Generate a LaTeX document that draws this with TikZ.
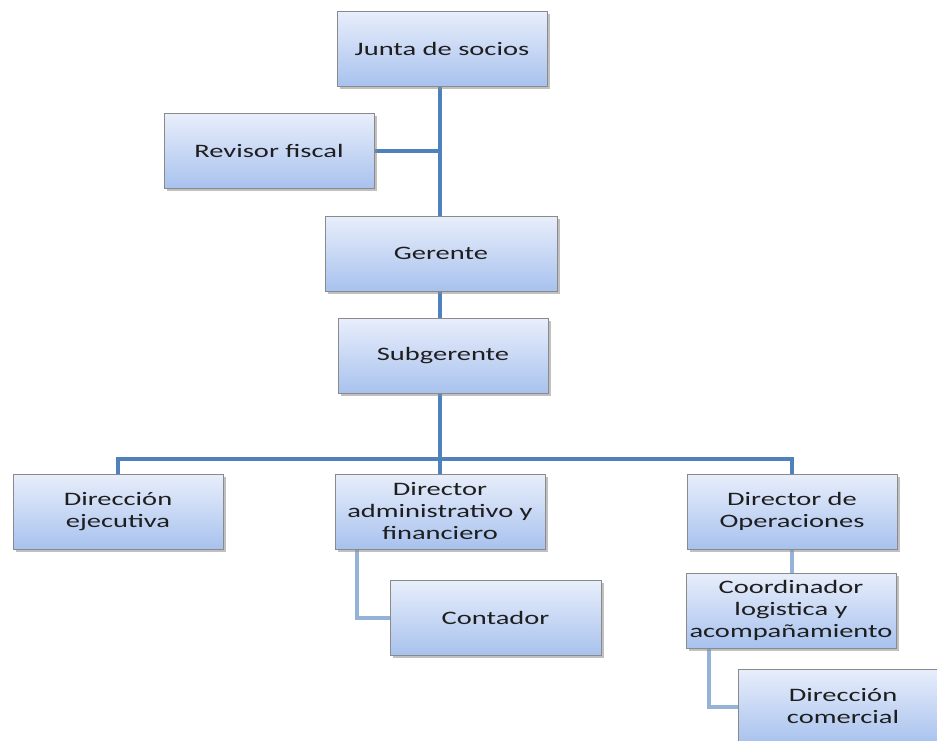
\documentclass[tikz,border=0pt]{standalone}
\usepackage{fontspec}
\setmainfont{Carlito}[FakeStretch=1.5]
\usetikzlibrary{shadows}
\pgfdeclarelayer{bg}
\pgfsetlayers{bg,main}
\definecolor{boxtop}{HTML}{E8EEFB}
\definecolor{boxbot}{HTML}{A8C2EE}
\definecolor{boxline}{HTML}{8A8A8A}
\definecolor{linkdark}{HTML}{4F81BD}
\definecolor{linklight}{HTML}{95B3D7}
\definecolor{ink}{HTML}{1E1E1E}
\begin{document}
\begin{tikzpicture}[x=1pt,y=1pt,
  orgbox/.style={rectangle, draw=boxline, line width=0.8pt,
    top color=boxtop, bottom color=boxbot, text=ink, align=center,
    inner sep=0pt, minimum width=210pt, minimum height=75pt,
    font=\fontsize{19}{22}\selectfont,
    drop shadow={shadow xshift=2.5pt, shadow yshift=-2.5pt,
      fill=black!45, opacity=0.55}},
  link/.style={draw=linkdark, line width=4pt},
  sublink/.style={draw=linklight, line width=4pt}]
\useasboundingbox (0,0) rectangle (937,-740);
\clip (0,0) rectangle (937,-740);

% boxes
\node[orgbox] (junta) at (442,-48.5) {Junta de socios};
\node[orgbox] (revisor) at (269,-151) {Revisor fiscal};
\node[orgbox, minimum width=232pt] (gerente) at (441,-253.5) {Gerente};
\node[orgbox] (subger) at (443,-356) {Subgerente};
\node[orgbox] (direj) at (118,-511.5) {Dirección\\ejecutiva};
\node[orgbox] (diradm) at (440,-511.5) {Director\\administrativo y\\financiero};
\node[orgbox, minimum width=211pt] (contador) at (495.5,-618) {Contador};
\node[orgbox] (dirop) at (792,-511.5) {Director de\\Operaciones};
\node[orgbox] (coord) at (791,-610.5) {Coordinador\\logistica y\\acompañamiento};
\node[orgbox] (dircom) at (843,-706.5) {Dirección\\comercial};

% connectors
\coordinate (trunk) at (440,0);
\coordinate (bar) at (0,-459);
\coordinate (kadm) at (357,0);
\coordinate (kco) at (709,0);
\begin{pgfonlayer}{bg}
  \draw[link] (junta.south -| trunk) -- (gerente.north -| trunk);
  \draw[link] (revisor.east) -- (revisor.east -| trunk);
  \draw[link] (gerente.south -| trunk) -- (subger.north -| trunk);
  \draw[link] (subger.south -| trunk) -- (bar -| trunk);
  \draw[link] (direj.north) -- (direj.north |- bar) -- (dirop.north |- bar) -- (dirop.north);
  \draw[link] (bar -| diradm.north) -- (diradm.north);
  \draw[sublink] (diradm.south -| kadm) |- (contador.west);
  \draw[sublink] (dirop.south) -- (coord.north -| dirop.south);
  \draw[sublink] (coord.south -| kco) |- (dircom.west);
\end{pgfonlayer}
\end{tikzpicture}
\end{document}
